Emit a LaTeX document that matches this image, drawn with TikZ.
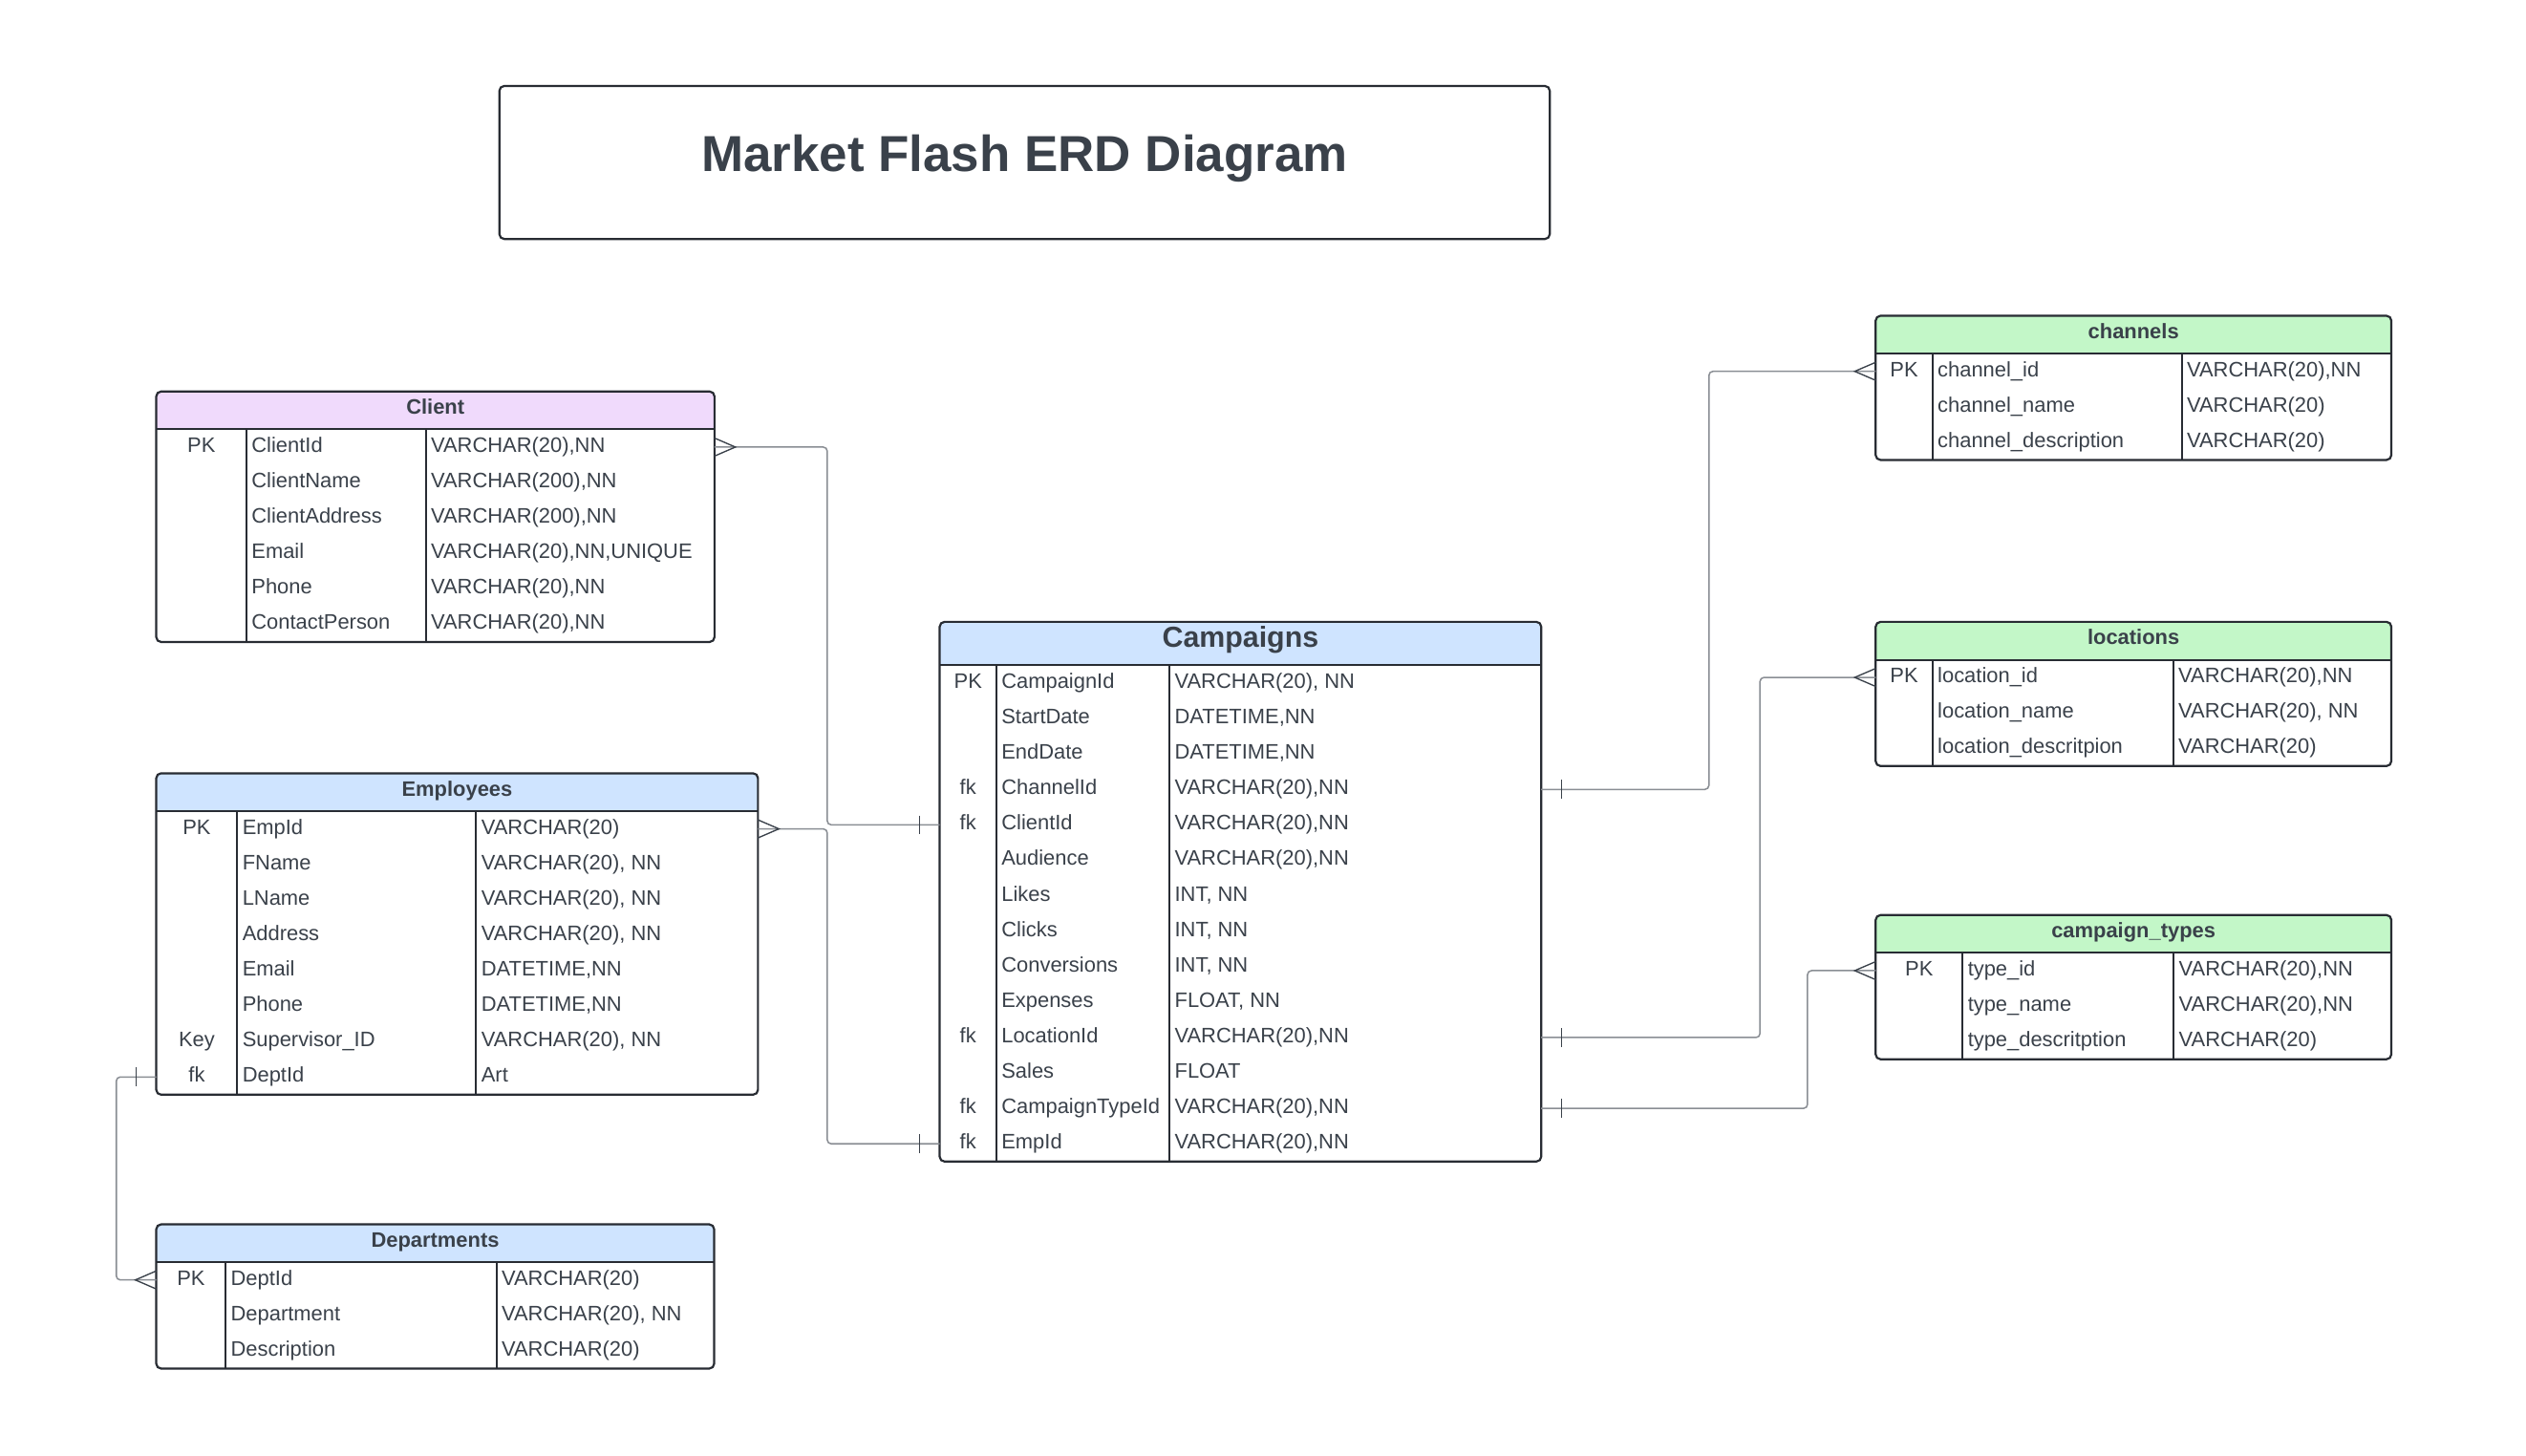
\documentclass[tikz,border=0pt]{standalone}
\usepackage{fontspec}
\setmainfont{Liberation Sans}

\definecolor{ink}{HTML}{3A414A}
\definecolor{edge}{HTML}{282C33}
\definecolor{wire}{HTML}{8A8E94}
\definecolor{lavender}{HTML}{F0DAFC}
\definecolor{skyblue}{HTML}{CFE4FF}
\definecolor{mint}{HTML}{C3F7C8}

\tikzset{
  erd/.cd,
  left/.store in=\erdL, key/.store in=\erdK, field/.store in=\erdF,
  right/.store in=\erdR, top/.store in=\erdT, head/.store in=\erdH,
  shade/.store in=\erdC, hfont/.store in=\erdFont,
}
\tikzset{
  cell/.style={anchor=west, inner sep=0pt, text=ink,
    font=\fontsize{13}{15}\selectfont, text height=9.5pt, text depth=3pt},
  headtext/.style={inner sep=0pt, text=ink, text height=0.72em, text depth=0.25em},
  frame/.style={draw=edge, line width=1.3pt, rounded corners=3pt,
    inner sep=0pt, outer sep=0pt, anchor=north west},
  rule/.style={draw=edge, line width=1.2pt},
  link/.style={draw=wire, line width=0.9pt, rounded corners=2.5pt},
  marker/.style={draw=ink, line width=0.8pt},
  crow/.pic={\draw[marker] (0,-5.6) -- (13,0) -- (0,5.6);},
  bar/.pic={\draw[marker] (12.5,-5.8) -- (12.5,5.8);},
}

% An entity table: header band, then one row per key/column/type.
% Rows are named <name>-1, <name>-2, ... and the frame is <name>.
\newcommand{\erdtable}[4][]{%
  \tikzset{erd/.cd,head=23.5,hfont=\fontsize{13}{15}\selectfont\bfseries,#1}%
  \pgfmathsetmacro{\erdHB}{\erdT+\erdH}%
  \foreach [count=\i] \keyname/\colname/\coltype in {#4} {
    \pgfmathsetmacro{\erdY}{\erdHB+22*\i-11}
    \node[cell] (#2-\i) at (\erdK+3,\erdY) {\colname};
    \node[cell, anchor=center] at ({(\erdL+\erdK)/2},\erdY) {\keyname};
    \node[cell] at (\erdF+3,\erdY) {\coltype};
    \xdef\erdN{\i}
  }
  \pgfmathsetmacro{\erdB}{\erdHB+22*\erdN}%
  \begin{scope}
    \clip[rounded corners=3pt] (\erdL,\erdT) rectangle (\erdR,\erdB);
    \fill[\erdC] (\erdL,\erdT) rectangle (\erdR,\erdHB);
  \end{scope}
  \node[headtext, font=\erdFont] at ({(\erdL+\erdR)/2},{\erdT+\erdH/2}) {#3};
  \draw[rule] (\erdL,\erdHB) -- (\erdR,\erdHB)
    (\erdK,\erdHB) -- (\erdK,\erdB) (\erdF,\erdHB) -- (\erdF,\erdB);
  \node[frame, minimum width={(\erdR-\erdL)*1pt},
    minimum height={(\erdB-\erdT)*1pt}] (#2) at (\erdL,\erdT) {};
}

\begin{document}
\begin{tikzpicture}[x=1pt,y=-1pt]
  \path[use as bounding box, fill=white] (0,0) rectangle (1568,903.2);

  % Title box
  \node[frame, anchor=center, minimum width=652pt, minimum height=95pt,
    text=ink, font=\fontsize{31.4}{36}\selectfont\bfseries,
    text height=22pt, text depth=11pt] (title) at (636,100.85)
    {Market Flash ERD Diagram};

  % Left column: Client, Employees, Departments
  \erdtable[left=97, key=153, field=264.3, right=443.5, top=243, shade=lavender]
    {client}{Client}
    {PK/ClientId/VARCHAR(20){,}NN, /ClientName/VARCHAR(200){,}NN,
     /ClientAddress/VARCHAR(200){,}NN, /Email/VARCHAR(20){,}NN{,}UNIQUE,
     /Phone/VARCHAR(20){,}NN, /ContactPerson/VARCHAR(20){,}NN}
  \erdtable[left=97, key=147.3, field=295.6, right=470.5, top=480, shade=skyblue]
    {employees}{Employees}
    {PK/EmpId/VARCHAR(20), /FName/VARCHAR(20){,} NN, /LName/VARCHAR(20){,} NN,
     /Address/VARCHAR(20){,} NN, /Email/DATETIME{,}NN, /Phone/DATETIME{,}NN,
     Key/Supervisor\_ID/VARCHAR(20){,} NN, fk/DeptId/Art}
  \erdtable[left=97, key=140.1, field=308.2, right=443.3, top=760, shade=skyblue]
    {departments}{Departments}
    {PK/DeptId/VARCHAR(20), /Department/VARCHAR(20){,} NN, /Description/VARCHAR(20)}

  % Centre: Campaigns
  \erdtable[left=583.3, key=618.5, field=726, right=956.7, top=386, head=27,
    shade=skyblue, hfont=\fontsize{18}{22}\selectfont\bfseries]
    {campaigns}{Campaigns}
    {PK/CampaignId/VARCHAR(20){,} NN, /StartDate/DATETIME{,}NN, /EndDate/DATETIME{,}NN,
     fk/ChannelId/VARCHAR(20){,}NN, fk/ClientId/VARCHAR(20){,}NN,
     /Audience/VARCHAR(20){,}NN, /Likes/INT{,} NN, /Clicks/INT{,} NN,
     /Conversions/INT{,} NN, /Expenses/FLOAT{,} NN, fk/LocationId/VARCHAR(20){,}NN,
     /Sales/FLOAT, fk/CampaignTypeId/VARCHAR(20){,}NN, fk/EmpId/VARCHAR(20){,}NN}

  % Right column: lookup tables
  \erdtable[left=1164.3, key=1199.6, field=1354.3, right=1484.4, top=196, shade=mint]
    {channels}{channels}
    {PK/channel\_id/VARCHAR(20){,}NN, /channel\_name/VARCHAR(20),
     /channel\_description/VARCHAR(20)}
  \erdtable[left=1164.3, key=1199.6, field=1349, right=1484.4, top=386, shade=mint]
    {locations}{locations}
    {PK/location\_id/VARCHAR(20){,}NN, /location\_name/VARCHAR(20){,} NN,
     /location\_descritpion/VARCHAR(20)}
  \erdtable[left=1164.3, key=1218.3, field=1349.3, right=1484.4, top=568, shade=mint]
    {types}{campaign\_types}
    {PK/type\_id/VARCHAR(20){,}NN, /type\_name/VARCHAR(20){,}NN,
     /type\_descritption/VARCHAR(20)}

  % Bends of the connectors
  \coordinate (midbus) at (513.5,0);
  \coordinate (deptbus) at (72.2,0);
  \coordinate (chanbus) at (1060.8,0);
  \coordinate (locbus) at (1092.5,0);
  \coordinate (typebus) at (1122,0);

  % Client and Employees to Campaigns
  \draw[link] (client-1 -| client.east) -- (midbus |- client-1)
    -- (midbus |- campaigns-5) -- (campaigns-5 -| campaigns.west);
  \pic at (client-1 -| client.east) {crow};
  \pic[xscale=-1] at (campaigns-5 -| campaigns.west) {bar};
  \draw[link] (employees-1 -| employees.east) -- (midbus |- employees-1)
    -- (midbus |- campaigns-14) -- (campaigns-14 -| campaigns.west);
  \pic at (employees-1 -| employees.east) {crow};
  \pic[xscale=-1] at (campaigns-14 -| campaigns.west) {bar};

  % Employees to Departments
  \draw[link] (employees-8 -| employees.west) -- (deptbus |- employees-8)
    -- (deptbus |- departments-1) -- (departments-1 -| departments.west);
  \pic[xscale=-1] at (employees-8 -| employees.west) {bar};
  \pic[xscale=-1] at (departments-1 -| departments.west) {crow};

  % Campaigns to the lookup tables
  \draw[link] (campaigns-4 -| campaigns.east) -- (chanbus |- campaigns-4)
    -- (chanbus |- channels-1) -- (channels-1 -| channels.west);
  \pic at (campaigns-4 -| campaigns.east) {bar};
  \pic[xscale=-1] at (channels-1 -| channels.west) {crow};
  \draw[link] (campaigns-11 -| campaigns.east) -- (locbus |- campaigns-11)
    -- (locbus |- locations-1) -- (locations-1 -| locations.west);
  \pic at (campaigns-11 -| campaigns.east) {bar};
  \pic[xscale=-1] at (locations-1 -| locations.west) {crow};
  \draw[link] (campaigns-13 -| campaigns.east) -- (typebus |- campaigns-13)
    -- (typebus |- types-1) -- (types-1 -| types.west);
  \pic at (campaigns-13 -| campaigns.east) {bar};
  \pic[xscale=-1] at (types-1 -| types.west) {crow};
\end{tikzpicture}
\end{document}
